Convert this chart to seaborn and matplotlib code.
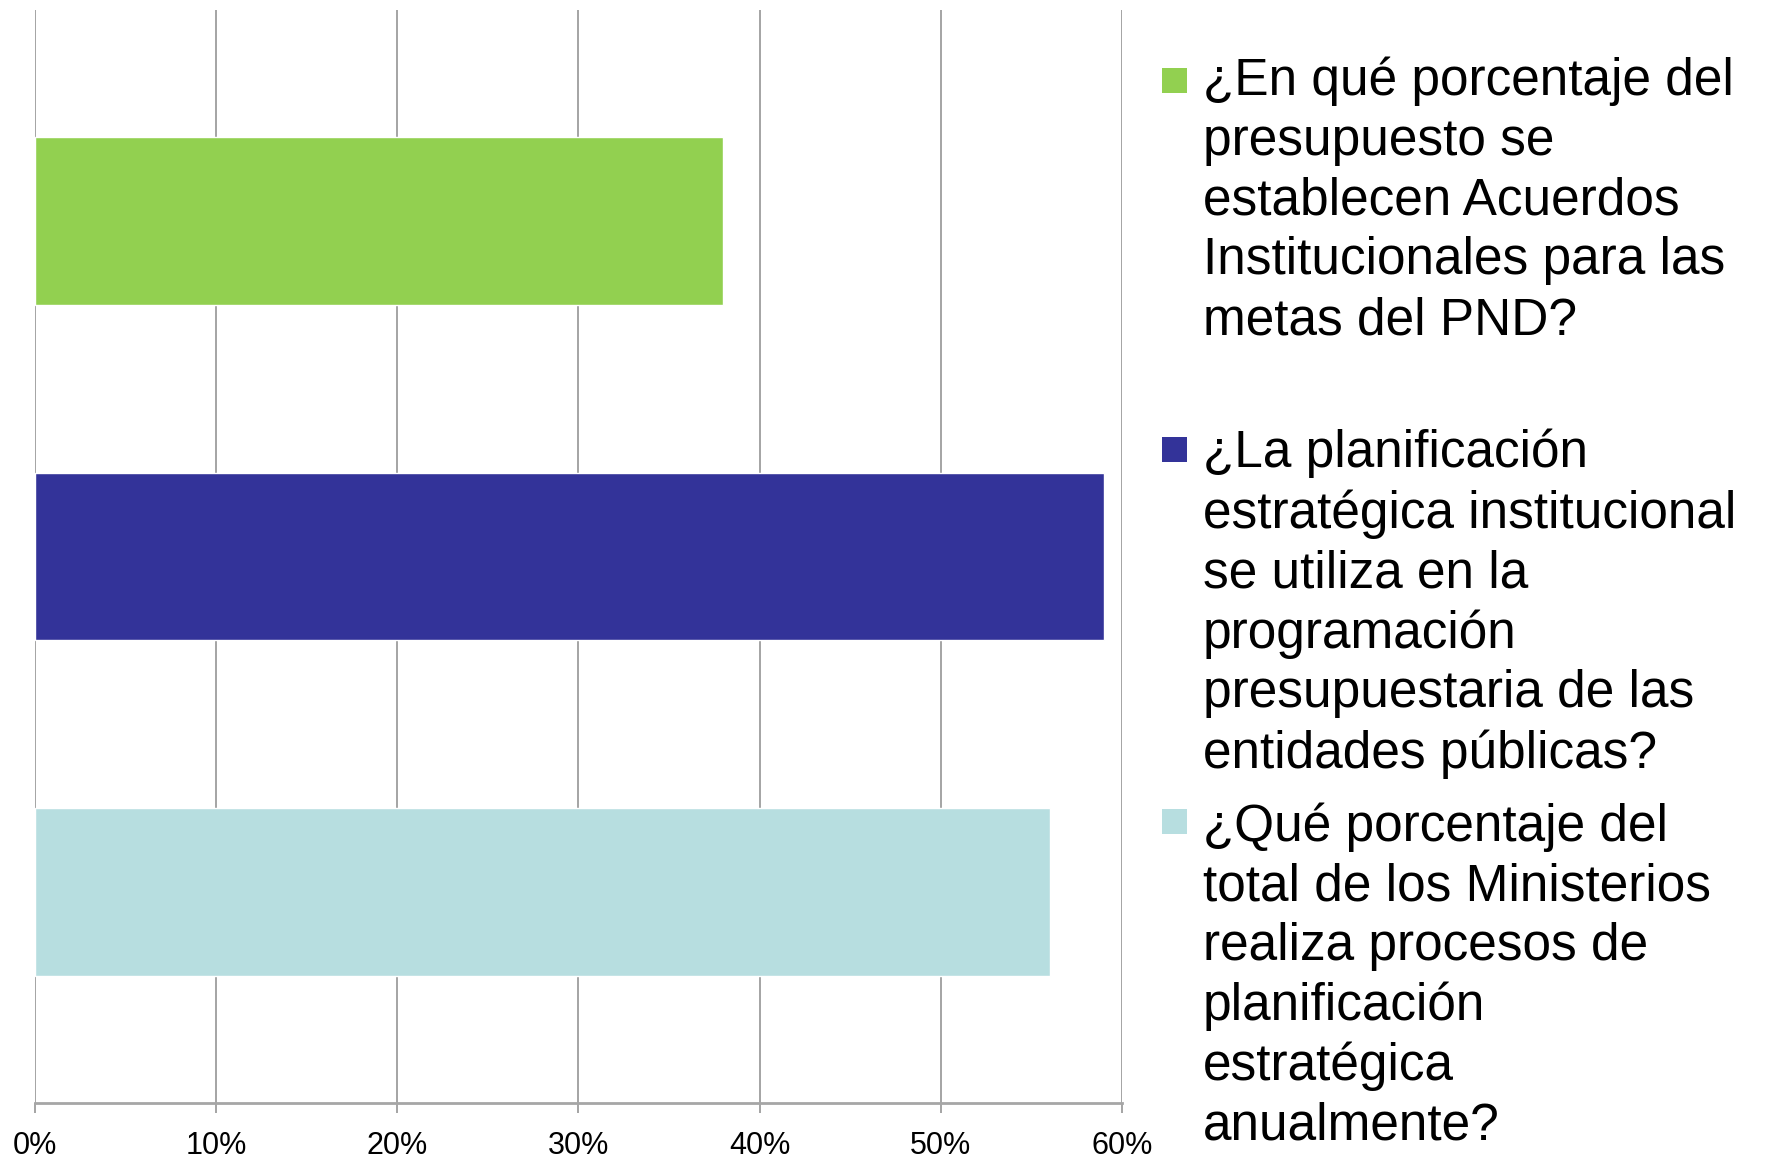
import matplotlib
matplotlib.use("Agg")
import matplotlib.pyplot as plt
import seaborn as sns
from matplotlib.patches import Rectangle
from matplotlib.ticker import FuncFormatter, MultipleLocator

categories = [
    "¿En qué porcentaje del\npresupuesto se\nestablecen Acuerdos\nInstitucionales para las\nmetas del PND?",
    "¿La planificación\nestratégica institucional\nse utiliza en la\nprogramación\npresupuestaria de las\nentidades públicas?",
    "¿Qué porcentaje del\ntotal de los Ministerios\nrealiza procesos de\nplanificación\nestratégica\nanualmente?",
]
values = [38, 59, 56]
colors = ["#92D050", "#333399", "#B7DEE0"]

sns.set_theme(style="white")
plt.rcParams["font.family"] = ["Liberation Sans", "DejaVu Sans"]

W, H = 1766, 1161
fig = plt.figure(figsize=(W / 100, H / 100), dpi=100)
ax = fig.add_axes([35 / W, 1 - 1103 / H, (1122 - 35) / W, (1103 - 10) / H])

sns.barplot(x=values, y=categories, hue=categories, palette=colors, orient="h",
            width=0.5, saturation=1, legend=False, ax=ax, zorder=3)

ax.set_xlim(0, 60)
ax.set_ylim(2.6265, -0.6265)
ax.xaxis.set_major_locator(MultipleLocator(10))
ax.xaxis.set_major_formatter(FuncFormatter(lambda v, p: f"{int(round(v))}%"))
ax.set_axisbelow(True)
ax.grid(axis="x", color="#8C8C8C", linewidth=1.1, zorder=0)
ax.grid(axis="y", visible=False)
ax.set_yticks([])
ax.set_xlabel("")
ax.set_ylabel("")
for s in ["top", "right", "left"]:
    ax.spines[s].set_visible(False)
ax.spines["bottom"].set_color("#A6A6A6")
ax.spines["bottom"].set_linewidth(2)
ax.tick_params(axis="x", bottom=True, length=7, width=1.1, color="#8C8C8C",
               pad=13, labelsize=22, labelcolor="#000000")

# legend
text_tops = [57, 429, 802]
marker_tops = [68, 437, 809]
for cat, col, ty, my in zip(categories, colors, text_tops, marker_tops):
    fig.patches.append(Rectangle((1162 / W, 1 - (my + 25) / H), 25 / W, 25 / H,
                                 transform=fig.transFigure, facecolor=col,
                                 edgecolor="none"))
    fig.text(1203 / W, 1 - ty / H, cat, ha="left", va="top", fontsize=37,
             linespacing=1.28, color="#000000")

fig.savefig("out.png", dpi=100, facecolor="white")
